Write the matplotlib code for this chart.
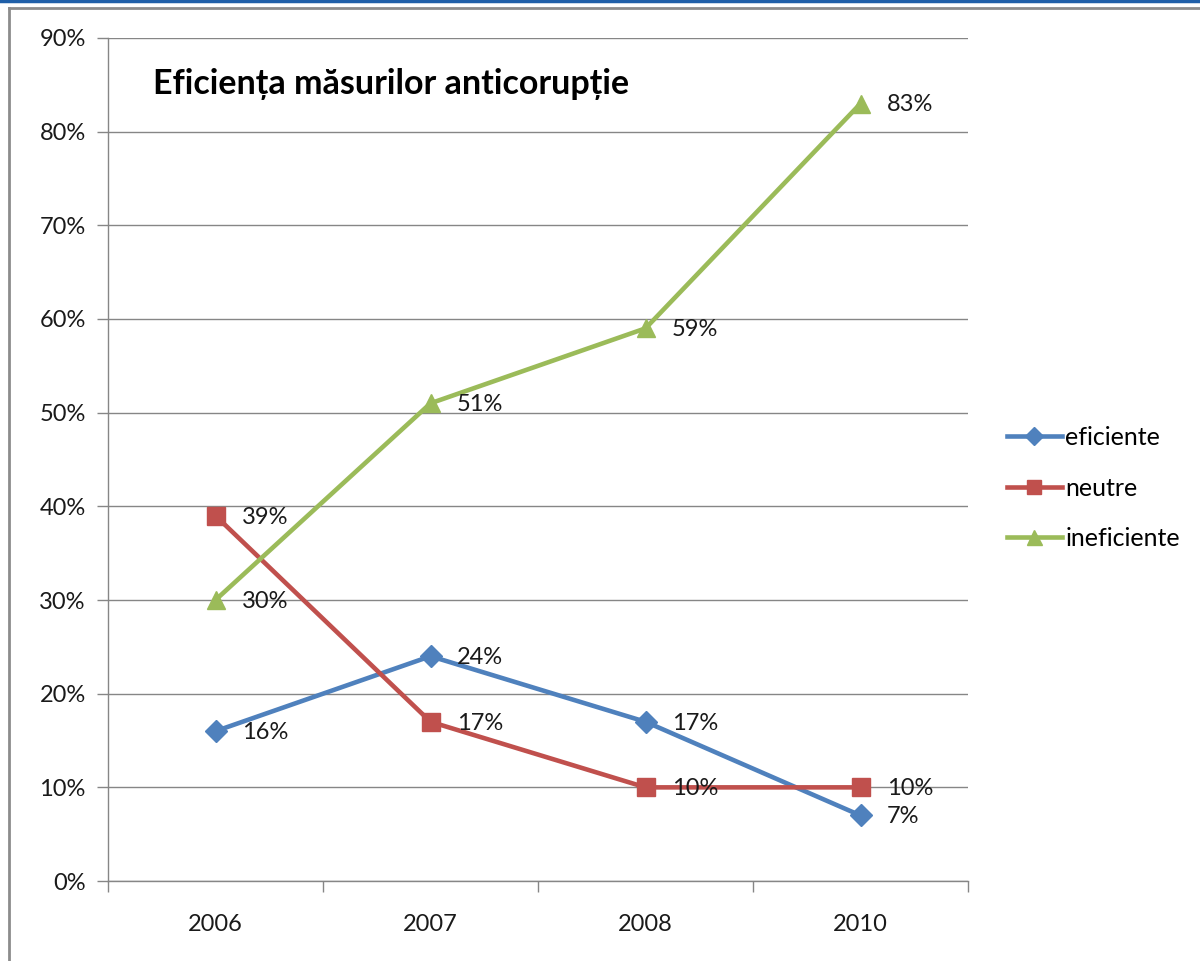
import matplotlib
matplotlib.use("Agg")
import matplotlib.pyplot as plt
from matplotlib.lines import Line2D
from matplotlib.ticker import FuncFormatter, MultipleLocator

years = ['2006', '2007', '2008', '2010']
eficiente = [16, 24, 17, 7]
neutre = [39, 17, 10, 10]
ineficiente = [30, 51, 59, 83]

title = 'Eficiența măsurilor anticorupție'

SERIES = [
    ('eficiente', eficiente, '#4F81BD', 'D', 11.5),
    ('neutre', neutre, '#C0504D', 's', 12.5),
    ('ineficiente', ineficiente, '#9BBB59', '^', 13.5),
]

FS = 17

plt.rcParams['font.family'] = ['Lato', 'DejaVu Sans']
plt.rcParams['font.size'] = FS

fig = plt.figure(figsize=(12, 9.61), dpi=100)
ax = fig.add_axes([0.09, 0.0832, 0.7167, 0.8773])

x = [i + 0.5 for i in range(len(years))]
for label, vals, color, marker, ms in SERIES:
    ax.plot(x, vals, color=color, linewidth=3.3, marker=marker, markersize=ms,
            label=label, zorder=5)
    for xi, v in zip(x, vals):
        ax.annotate(f'{v}%', (xi, v), xytext=(19, -1), textcoords='offset points',
                    ha='left', va='center', fontsize=FS, color='#1a1a1a', zorder=6)

ax.set_xlim(0, len(years))
ax.set_ylim(0, 90)
ax.yaxis.set_major_locator(MultipleLocator(10))
ax.yaxis.set_major_formatter(FuncFormatter(lambda v, p: f'{int(v)}%'))
ax.set_xticks(range(len(years) + 1))
ax.set_xticklabels([])
ax.set_xticks(x, minor=True)
ax.set_xticklabels(years, minor=True)
ax.tick_params(axis='x', which='minor', length=0, pad=24, labelsize=FS, labelcolor='#1a1a1a')
ax.tick_params(axis='x', which='major', length=8, color='#868686', width=1)
ax.tick_params(axis='y', length=8, color='#868686', width=1, pad=8, labelsize=FS, labelcolor='#1a1a1a')

ax.grid(axis='y', color='#868686', linewidth=1)
ax.set_axisbelow(True)
for s in ['top', 'right']:
    ax.spines[s].set_visible(False)
for s in ['left', 'bottom']:
    ax.spines[s].set_color('#868686')
    ax.spines[s].set_linewidth(1)

ax.text(0.052, 0.945, title, transform=ax.transAxes, fontsize=24.5,
        fontweight='bold', ha='left', va='center', color='black')

ax.legend(loc='center left', bbox_to_anchor=(1.045, 0.466), frameon=False,
          fontsize=18, handlelength=2.2, handletextpad=0.15, labelspacing=1.1,
          markerscale=0.8, borderaxespad=0, borderpad=0)

# frame lines of the original screenshot
fig.add_artist(Line2D([0, 1], [0.999, 0.999], color='#1F5FA8', linewidth=2.5))
fig.add_artist(Line2D([0.0075, 1], [0.9915, 0.9915], color='#8c8c8c', linewidth=2))
fig.add_artist(Line2D([0.0078, 0.0078], [0, 0.9915], color='#8c8c8c', linewidth=2))

fig.savefig('out.png', dpi=100)
